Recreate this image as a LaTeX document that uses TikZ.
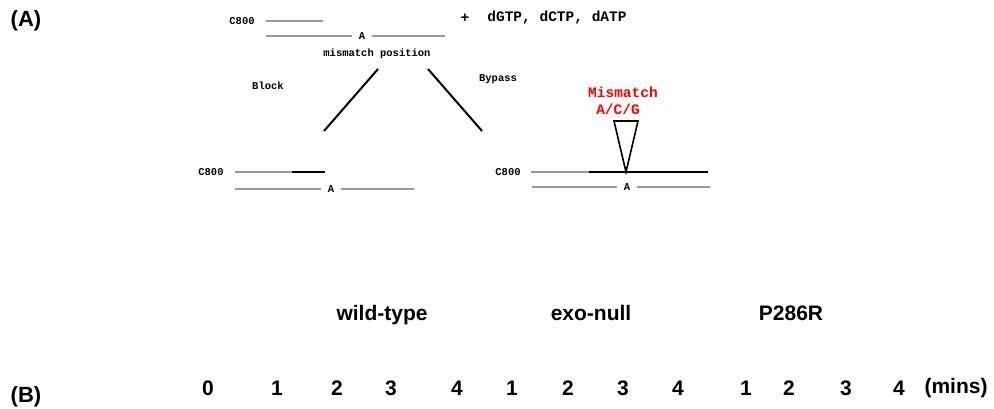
\documentclass[tikz,border=0pt]{standalone}
\usepackage{fontspec}
\setmainfont{Liberation Sans}
\setmonofont{Liberation Mono}
\begin{document}
\begin{tikzpicture}[x=1pt,y=-1pt,
  lab/.style={font=\bfseries\fontsize{21}{25}\selectfont, inner sep=0pt},
  mono/.style={font=\ttfamily\bfseries\fontsize{10.5}{12}\selectfont, inner sep=0pt},
  bigmono/.style={font=\ttfamily\bfseries\fontsize{14.5}{17}\selectfont, inner sep=0pt},
  base/.style={mono, inner xsep=7pt},
  strand/.style={draw=gray!80, line width=1.5pt},
  newdna/.style={draw=black, line width=2.5pt},
  arm/.style={draw=black, line width=2pt}]
\useasboundingbox (0,0) rectangle (994,409);
% panel labels
\node[lab, font=\bfseries\fontsize{22}{26}\selectfont] (pA) at (26,21) {(A)};
\node[lab, font=\bfseries\fontsize{22}{26}\selectfont] (pB) at (26,397) {(B)};
% top substrate
\node[mono] (c0) at (242,21) {C800};
\coordinate (t0s) at (266,21); \coordinate (t0e) at (323,21);
\draw[strand] (t0s) -- (t0e);
\node[base] (a0) at (362,36) {A};
\coordinate (b0s) at (266,36); \coordinate (b0e) at (445,36);
\draw[strand] (b0s) -- (a0) -- (b0e);
\node[mono] (mp) at (377,54) {mismatch position};
\node[bigmono] (plus) at (465,18) {+};
\node[bigmono] (dntp) at (557,18) {dGTP, dCTP, dATP};
\node[mono] (blk) at (268,86) {Block};
\node[mono] (byp) at (498,79) {Bypass};
% arms
\coordinate (l1) at (378,69); \coordinate (l2) at (324,131);
\coordinate (r1) at (428,69); \coordinate (r2) at (482,131);
\draw[arm] (l1) -- (l2);
\draw[arm] (r1) -- (r2);
% block product
\node[mono] (c1) at (211,172) {C800};
\coordinate (t1s) at (235,172); \coordinate (t1m) at (292,172); \coordinate (t1e) at (325,172);
\draw[strand] (t1s) -- (t1m);
\draw[newdna] (t1m) -- (t1e);
\node[base] (a1) at (331,189) {A};
\coordinate (b1s) at (235,189); \coordinate (b1e) at (414,189);
\draw[strand] (b1s) -- (a1) -- (b1e);
% bypass product
\node[mono] (c2) at (508,172) {C800};
\coordinate (t2s) at (531,172); \coordinate (t2m) at (589,172); \coordinate (t2e) at (708,172);
\draw[strand] (t2s) -- (t2m);
\draw[newdna] (t2m) -- (t2e);
\node[base] (a2) at (627,187) {A};
\coordinate (b2s) at (532,187); \coordinate (b2e) at (710,187);
\draw[strand] (b2s) -- (a2) -- (b2e);
\coordinate (tri1) at (614,121); \coordinate (tri2) at (638,121); \coordinate (tri3) at (626,172);
\draw[black, line width=1.6pt, fill=white, line join=miter] (tri1) -- (tri2) -- (tri3) -- cycle;
\node[bigmono, text=red] (mm) at (623,92) {Mismatch};
\node[bigmono, text=red] (acg) at (618,109) {A/C/G};
% panel B labels
\node[lab, anchor=base] (wt) at (382,320) {wild-type};
\node[lab, anchor=base] (exo) at (591,320) {exo-null};
\node[lab, anchor=base] (p286) at (791,320) {P286R};
\foreach \n/\x/\t in {n0/208/0, n1/277/1, n2/337/2, n3/391/3, n4/457/4,
  n5/512/1, n6/568/2, n7/623/3, n8/678/4,
  n9/746/1, n10/789/2, n11/846/3, n12/899/4}
  \node[lab] (\n) at (\x,388) {\t};
\node[lab] (mins) at (956,388) {(mins)};
\end{tikzpicture}
\end{document}
